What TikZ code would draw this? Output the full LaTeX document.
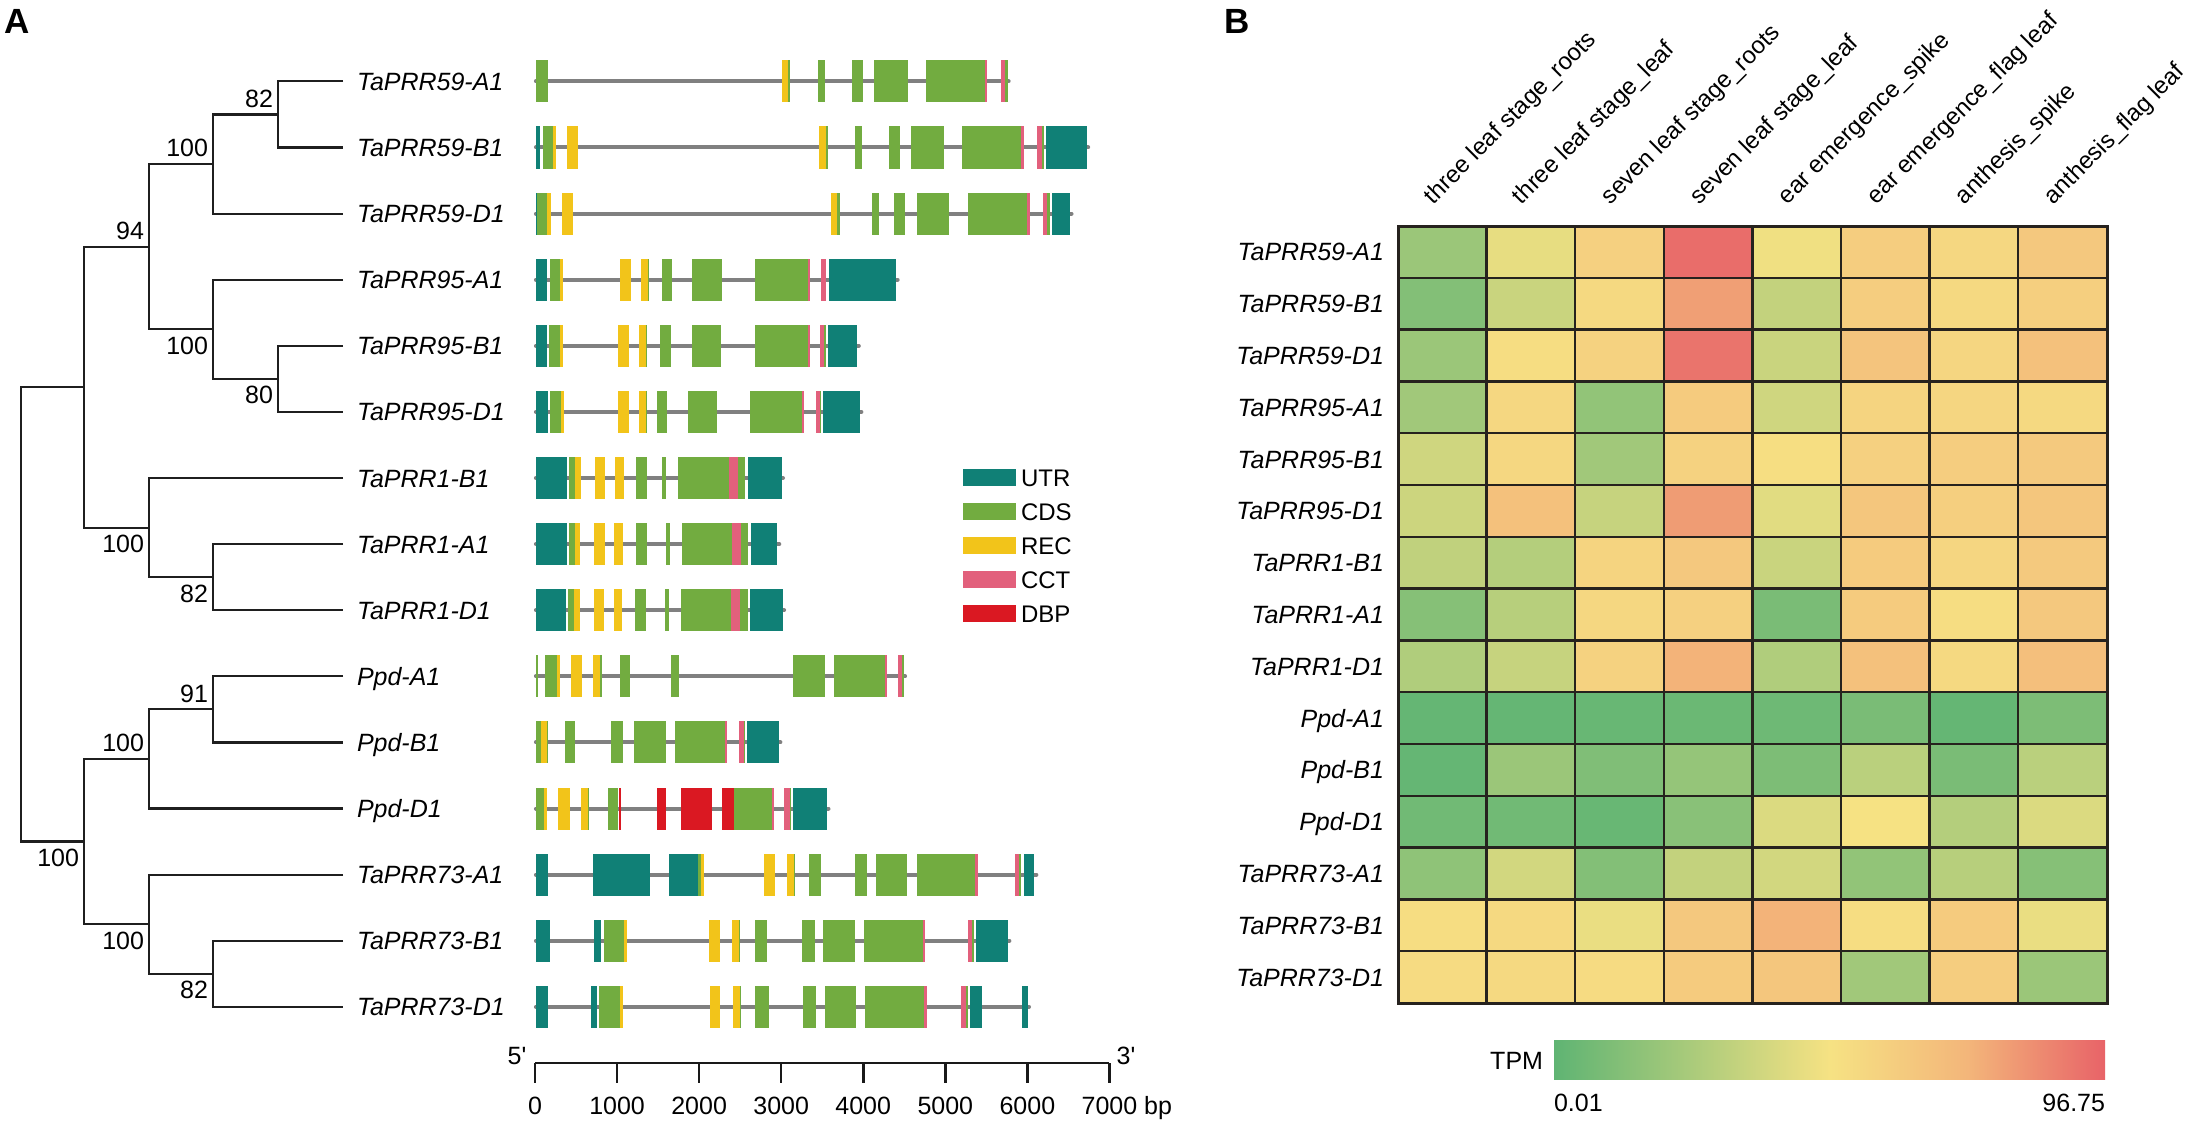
\documentclass[tikz,border=0pt]{standalone}
\usepackage{fontspec}
\setmainfont{Liberation Sans}
\definecolor{utr}{RGB}{16,128,118}
\definecolor{cds}{RGB}{114,172,64}
\definecolor{rec}{RGB}{242,196,26}
\definecolor{cct}{RGB}{226,96,124}
\definecolor{dbp}{RGB}{218,24,34}
\definecolor{intr}{RGB}{128,128,128}
\definecolor{hlow}{RGB}{95,180,115}
\definecolor{hmid}{RGB}{246,226,131}
\definecolor{horange}{RGB}{243,182,122}
\definecolor{hhigh}{RGB}{232,99,104}
\definecolor{gridc}{RGB}{38,34,30}
\newcommand\generow[3]{%
  \draw[intron] (43,#1) -- (#2-4,#1);
  \foreach \c/\a/\b in {#3} {\fill[\c] (\a,#1-21) rectangle (\b,#1+21);}
}
\newcommand\hcell[3]{%
  \ifnum#3<50
    \pgfmathsetmacro\hp{2*#3}\colorlet{hc}{hmid!\hp!hlow}%
  \else\ifnum#3<75
    \pgfmathsetmacro\hp{4*(#3-50)}\colorlet{hc}{horange!\hp!hmid}%
  \else
    \pgfmathsetmacro\hp{4*(#3-75)}\colorlet{hc}{hhigh!\hp!horange}%
  \fi\fi
  \fill[hc] ({1398+88.6*#1},{226+51.8*#2}) rectangle ++(88.6,51.8);
}
\begin{document}
\begin{tikzpicture}[x=1pt,y=-1pt,
  every node/.style={inner sep=0pt,outer sep=0pt},
  fnt/.style={font=\fontsize{25}{30}\selectfont},
  lab/.style={font=\fontsize{25}{30}\selectfont\itshape,anchor=base west},
  hrow/.style={font=\fontsize{25}{30}\selectfont\itshape,anchor=base east},
  collab/.style={font=\fontsize{24}{28}\selectfont,anchor=base west,rotate=45},
  branch/.style={line width=2.2pt,draw=black!88},
  supabove/.style={fnt,anchor=base east,xshift=-5pt,yshift=7pt},
  supbelow/.style={fnt,anchor=base east,xshift=-5pt,yshift=-25pt},
  intron/.style={line width=4pt,draw=intr,line cap=round},
  axisline/.style={line width=2.5pt,draw=black!90},
  gridline/.style={line width=2.5pt,draw=gridc},
  leg/.style={font=\fontsize{24}{28}\selectfont,anchor=base west},
  panel/.style={font=\fontsize{35}{40}\selectfont\bfseries,anchor=base west}]
\useasboundingbox (0,0) rectangle (2195,1121);

% panel labels
\node[panel] (pA) at (5,34) {A};
\node[panel] (pB) at (1224,34) {B};

% ---------- tree ----------
\foreach \n [count=\i from 0] in {TaPRR59-A1,TaPRR59-B1,TaPRR59-D1,TaPRR95-A1,TaPRR95-B1,TaPRR95-D1,TaPRR1-B1,TaPRR1-A1,TaPRR1-D1,Ppd-A1,Ppd-B1,Ppd-D1,TaPRR73-A1,TaPRR73-B1,TaPRR73-D1} {
  \coordinate (L\i) at (343,{81.4+66.1*\i});
  \node[lab] (t\i) at (357,{81.4+66.1*\i+9}) {\n};
}
\coordinate (n1) at (278,114.45);
\coordinate (n2) at (213,164.0);
\coordinate (n4) at (278,378.85);
\coordinate (n3) at (213,329.3);
\coordinate (n5) at (149,246.6);
\coordinate (n6) at (213,577.15);
\coordinate (n7) at (149,527.6);
\coordinate (n8) at (84,387.1);
\coordinate (n9) at (213,709.35);
\coordinate (n10) at (149,758.9);
\coordinate (n11) at (213,973.75);
\coordinate (n12) at (149,924.2);
\coordinate (n13) at (84,841.5);
\coordinate (root) at (21,614.3);
\draw[branch] (L0) -| (n1) |- (L1);
\draw[branch] (n1) -| (n2) |- (L2);
\draw[branch] (L4) -| (n4) |- (L5);
\draw[branch] (L3) -| (n3) |- (n4);
\draw[branch] (n2) -| (n5) |- (n3);
\draw[branch] (L7) -| (n6) |- (L8);
\draw[branch] (L6) -| (n7) |- (n6);
\draw[branch] (n5) -| (n8) |- (n7);
\draw[branch] (L9) -| (n9) |- (L10);
\draw[branch] (n9) -| (n10) |- (L11);
\draw[branch] (L13) -| (n11) |- (L14);
\draw[branch] (L12) -| (n12) |- (n11);
\draw[branch] (n10) -| (n13) |- (n12);
\draw[branch] (n8) -| (root) |- (n13);
\node[supabove] (s1) at (n1) {82};
\node[supabove] (s2) at (n2) {100};
\node[supbelow] (s3) at (n3) {100};
\node[supbelow] (s4) at (n4) {80};
\node[supabove] (s5) at (n5) {94};
\node[supbelow] (s6) at (n6) {82};
\node[supbelow] (s7) at (n7) {100};
\node[supabove] (s9) at (n9) {91};
\node[supabove] (s10) at (n10) {100};
\node[supbelow] (s11) at (n11) {82};
\node[supbelow] (s12) at (n12) {100};
\node[supbelow] (s13) at (n13) {100};

% ---------- gene structures ----------
\begin{scope}[xshift=520pt,x=0.3699pt]
\generow{81.4}{1325}{cds/42/77, rec/707/724, cds/724/730, cds/806/825, cds/898/926, cds/958/1048, cds/1097/1256, cct/1256/1263, cct/1299/1311, cds/1311/1318}
\generow{147.5}{1540}{utr/42/55, cds/62/88, rec/88/97, rec/127/157, rec/808/826, cds/826/832, cds/906/925, cds/998/1026, cds/1057/1146, cds/1196/1355, cct/1355/1362, cct/1398/1410, cds/1410/1417, utr/1423/1533}
\generow{213.6}{1495}{utr/42/47, cds/47/74, rec/74/83, rec/114/143, rec/842/858, cds/858/864, cds/951/970, cds/1012/1040, cds/1072/1161, cds/1211/1371, cct/1371/1378, cct/1413/1425, cds/1425/1433, utr/1438/1486}
\generow{279.7}{1025}{utr/42/74, cds/80/108, rec/108/116, rec/271/300, rec/327/345, cds/345/349, cds/383/410, cds/466/546, cds/634/779, cct/779/785, cct/813/826, utr/834/1016}
\generow{345.8}{920}{utr/42/73, cds/79/108, rec/108/116, rec/266/296, rec/322/341, cds/341/344, cds/379/407, cds/464/543, cds/634/779, cct/779/784, cct/811/823, cds/823/827, utr/832/912}
\generow{411.9}{927}{utr/42/76, cds/81/110, rec/110/119, rec/265/296, rec/321/340, cds/340/344, cds/371/398, cds/453/533, cds/622/763, cct/763/769, cct/799/811, cds/811/815, utr/819/918}
\generow{478.0}{715}{utr/42/128, cds/133/150, rec/150/164, rec/202/231, rec/257/281, cds/314/344, cds/384/395, cds/427/565, cct/565/588, cds/588/608, utr/615/707}
\generow{544.1}{705}{utr/42/127, cds/133/149, rec/149/163, rec/201/230, rec/255/279, cds/313/343, cds/395/406, cds/437/573, cct/573/597, cds/597/617, utr/624/695}
\generow{610.2}{718}{utr/42/123, cds/129/147, rec/147/161, rec/199/228, rec/253/277, cds/311/341, cds/391/402, cds/435/571, cct/571/595, cds/595/616, utr/622/710}
\generow{676.3}{1045}{cds/42/48, cds/68/100, rec/100/108, rec/138/168, rec/197/217, cds/217/221, cds/271/298, cds/407/431, cds/738/825, cds/849/986, cct/986/992, cct/1021/1033, cds/1033/1037}
\generow{742.4}{708}{cds/42/56, rec/56/72, cds/72/77, cds/121/149, cds/246/278, cds/308/395, cds/419/553, cct/553/560, cct/592/605, cds/605/608, utr/614/700}
\generow{808.5}{838}{cds/42/65, rec/65/73, rec/103/134, rec/164/183, cds/183/187, cds/237/265, dbp/267/274, dbp/370/395, dbp/435/520, dbp/545/579, cds/579/680, cct/680/686, cct/715/729, cds/729/732, utr/738/829}
\generow{874.6}{1400}{utr/42/76, utr/198/352, utr/402/481, cds/481/489, rec/489/497, rec/659/689, rec/721/740, cds/740/744, cds/780/814, cds/905/938, cds/962/1047, cds/1072/1230, cct/1230/1237, cct/1337/1348, cds/1348/1355, utr/1362/1390}
\generow{940.7}{1327}{utr/42/82, utr/201/220, cds/226/282, rec/282/289, rec/511/541, rec/573/593, cds/593/596, cds/635/669, cds/762/797, cds/820/905, cds/929/1089, cct/1089/1096, cct/1210/1222, cds/1222/1228, utr/1234/1319}
\generow{1006.8}{1380}{utr/42/76, utr/192/208, cds/214/270, rec/270/278, rec/513/542, rec/575/594, cds/594/598, cds/635/673, cds/765/799, cds/824/908, cds/933/1093, cct/1093/1099, cct/1193/1206, cds/1206/1212, utr/1217/1248, utr/1356/1372}
\end{scope}

% legend
\foreach \c/\t [count=\i from 0] in {utr/UTR,cds/CDS,rec/REC,cct/CCT,dbp/DBP} {
  \fill[\c] (963,{469+34*\i}) rectangle (1016,{486+34*\i});
  \node[leg] (lg\i) at (1021,{477.5+34*\i+8.6}) {\t};
}

% scale axis
\coordinate (ax0) at (535,1063);
\coordinate (ax7) at (1109.4,1063);
\draw[axisline] (ax0) -- (ax7);
\foreach \k/\t in {0/0,1/1000,2/2000,3/3000,4/4000,5/5000,6/6000,7/7000} {
  \coordinate (tk\k) at ({535+82.06*\k},1063);
  \draw[axisline] (tk\k) -- ++(0,20);
  \node[fnt,anchor=base] (tl\k) at ({535+82.06*\k},1114) {\t};
}
\node[fnt,anchor=base west] (bp) at ([xshift=7pt]tl7.base east) {bp};
\node[fnt] (five) at (517,1056) {5\textquotesingle};
\node[fnt] (three) at (1126,1056) {3\textquotesingle};

% ---------- heatmap ----------
\foreach \vals [count=\r from 0] in {
 {20,45,60,97,48,62,56,65},
 {12,35,55,82,33,62,55,61},
 {20,53,59,95,35,67,57,69},
 {22,56,17,63,37,58,57,55},
 {37,56,22,59,52,60,62,64},
 {36,69,34,83,43,66,61,66},
 {32,28,58,65,35,63,57,64},
 {13,29,56,60,9,63,53,65},
 {27,34,59,76,27,69,55,70},
 {2,2,3,4,5,9,2,10},
 {2,20,11,18,10,30,9,30},
 {6,6,3,14,41,50,28,41},
 {16,38,12,33,38,17,29,13},
 {53,55,46,65,76,53,63,46},
 {54,55,54,63,66,22,62,20}} {
  \foreach \v [count=\c from 0] in \vals {\hcell{\c}{\r}{\v}}
}
\foreach \i in {0,...,8} {\draw[gridline] ({1398+88.6*\i},226) -- ({1398+88.6*\i},1003);}
\foreach \j in {0,...,15} {\draw[gridline] (1398,{226+51.8*\j}) -- (2107,{226+51.8*\j});}
\draw[gridline,line width=3pt] (1398,226) rectangle (2107,1003);

\foreach \n [count=\r from 0] in {TaPRR59-A1,TaPRR59-B1,TaPRR59-D1,TaPRR95-A1,TaPRR95-B1,TaPRR95-D1,TaPRR1-B1,TaPRR1-A1,TaPRR1-D1,Ppd-A1,Ppd-B1,Ppd-D1,TaPRR73-A1,TaPRR73-B1,TaPRR73-D1} {
  \node[hrow] (h\r) at (1384,{226+51.8*(\r+0.5)+9}) {\n};
}
\foreach \t [count=\c from 0] in {three leaf stage\_roots,three leaf stage\_leaf,seven leaf stage\_roots,seven leaf stage\_leaf,ear emergence\_spike,ear emergence\_flag leaf,anthesis\_spike,anthesis\_flag leaf} {
  \node[collab] (col\c) at ({1398+88.6*(\c+0.5)-9},205) {\t};
}

% colour bar
\shade[left color=hlow,right color=hmid] (1554,1040) rectangle (1830,1079);
\shade[left color=hmid,right color=hhigh,middle color=horange] (1829.5,1040) rectangle (2105,1079);
\node[fnt,anchor=east] (tpm) at (1543,1061) {TPM};
\node[fnt,anchor=base west] (vmin) at (1554,1111) {0.01};
\node[fnt,anchor=base east] (vmax) at (2105,1111) {96.75};
\end{tikzpicture}
\end{document}
